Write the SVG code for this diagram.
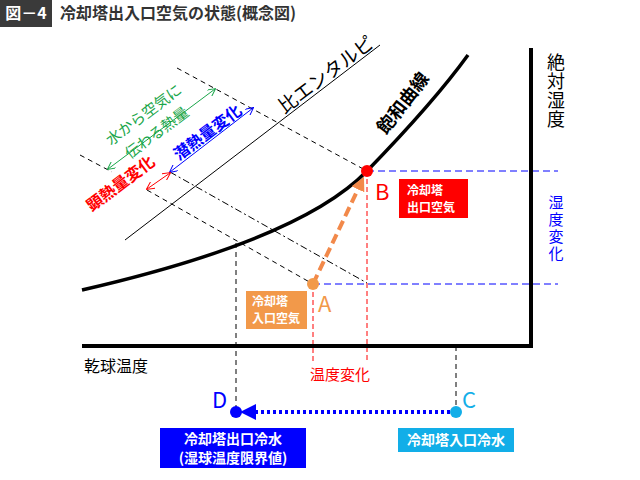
<svg xmlns="http://www.w3.org/2000/svg" width="640" height="480" viewBox="0 0 640 480">
<style>
text{font-family:"Noto Sans CJK JP","Noto Sans",sans-serif}
.thin{stroke:#000;stroke-width:1;fill:none}
.dsh{stroke:#000;stroke-width:1;fill:none;stroke-dasharray:5,4}
.dd{stroke:#000;stroke-width:1;fill:none;stroke-dasharray:7,3,2,3}
.wt{fill:#fff;font-size:12px;font-weight:bold}
</style>
<defs>
<marker id="og" viewBox="0 0 10 10" refX="9" refY="5" markerWidth="8" markerHeight="8" orient="auto-start-reverse"><path d="M0,0L10,5L0,10" fill="none" stroke="#1aa64a" stroke-width="1.2"/></marker>
<marker id="ob" viewBox="0 0 10 10" refX="9" refY="5" markerWidth="8" markerHeight="8" orient="auto-start-reverse"><path d="M0,0L10,5L0,10" fill="none" stroke="#00f" stroke-width="1.2"/></marker>
<marker id="or" viewBox="0 0 10 10" refX="9" refY="5" markerWidth="8" markerHeight="8" orient="auto-start-reverse"><path d="M0,0L10,5L0,10" fill="none" stroke="#f00" stroke-width="1.2"/></marker>
<marker id="oa" viewBox="0 0 10 10" refX="5" refY="5" markerWidth="3.5" markerHeight="3.5" orient="auto"><path d="M0,0L10,5L0,10z" fill="#f2894a"/></marker>
<marker id="bl" viewBox="0 0 10 10" refX="5" refY="5" markerWidth="4" markerHeight="4" orient="auto"><path d="M0,0L10,5L0,10z" fill="#00f"/></marker>
</defs>
<g id="title">
<rect x="0" y="0" width="52" height="27" fill="#3a3a3a"/>
<text x="26" y="19" fill="#fff" font-size="16" font-weight="bold" text-anchor="middle">図－4</text>
<text x="60" y="19" fill="#333" font-size="16" font-weight="bold">冷却塔出入口空気の状態(概念図)</text>
</g>
<g id="connectors">
<line class="thin" x1="125" y1="240" x2="380" y2="45"/>
<line class="dsh" x1="177" y1="68" x2="367" y2="171"/>
<line class="dsh" x1="80" y1="155" x2="112" y2="172"/>
<line class="dd" x1="170" y1="172" x2="367" y2="283"/>
<line class="dsh" x1="147" y1="190" x2="313" y2="284"/>
<line stroke="#1aa64a" x1="108" y1="169" x2="215" y2="89" marker-start="url(#og)" marker-end="url(#og)"/>
<line stroke="#00f" x1="170" y1="172" x2="253" y2="108" marker-start="url(#ob)" marker-end="url(#ob)"/>
<line stroke="#f00" x1="147" y1="189" x2="170" y2="173" marker-start="url(#or)" marker-end="url(#or)"/>
<path d="M82,290 Q300,240 367,171 T468,55" fill="none" stroke="#000" stroke-width="3.5"/>
<line x1="367" y1="171" x2="558" y2="171" stroke="#00f" stroke-dasharray="7,4"/>
<line x1="313" y1="284" x2="558" y2="284" stroke="#00f" stroke-dasharray="7,4"/>
<line x1="313" y1="284" x2="313" y2="362" stroke="#f00" stroke-dasharray="5,3"/>
<line x1="367" y1="171" x2="367" y2="362" stroke="#f00" stroke-dasharray="5,3"/>
<line class="dsh" x1="236" y1="243" x2="236" y2="410"/>
<line class="dsh" x1="456" y1="346" x2="456" y2="410"/>
<line x1="313" y1="284" x2="361" y2="183" stroke="#f2894a" stroke-width="4" stroke-dasharray="10,5" marker-end="url(#oa)"/>
<line x1="450" y1="412" x2="248" y2="412" stroke="#00f" stroke-width="4" stroke-dasharray="3,3" marker-end="url(#bl)"/>
<line x1="82" y1="346" x2="531" y2="346" stroke="#000" stroke-width="4"/>
<line x1="531" y1="48" x2="531" y2="348" stroke="#000" stroke-width="4"/>
</g>
<g id="labels">
<text transform="translate(330,80) rotate(-37)" font-size="19" text-anchor="middle">比エンタルピ</text>
<text transform="translate(408,107) rotate(-52)" font-size="18" font-weight="bold" text-anchor="middle">飽和曲線</text>
<text transform="translate(147,119) rotate(-37)" font-size="15" fill="#1aa64a" text-anchor="middle">水から空気に</text>
<text transform="translate(160,137) rotate(-37)" font-size="15" fill="#1aa64a" text-anchor="middle">伝わる熱量</text>
<text transform="translate(211,137) rotate(-37)" font-size="16" font-weight="bold" fill="#00f" text-anchor="middle">潜熱量変化</text>
<text transform="translate(124,188) rotate(-37)" font-size="16" font-weight="bold" fill="#f00" text-anchor="middle">顕熱量変化</text>
<text x="556" y="53" writing-mode="vertical-rl" font-size="18" letter-spacing="1">絶対湿度</text>
<text x="556" y="195" writing-mode="vertical-rl" font-size="15" fill="#00f" letter-spacing="2">湿度変化</text>
<text x="84" y="372" font-size="16">乾球温度</text>
<text x="340" y="380" font-size="15" fill="#f00" text-anchor="middle">温度変化</text>
</g>
<g id="A"><circle cx="313" cy="284" r="6" fill="#f2994a"/><text x="318" y="312" font-size="22" fill="#f2994a" font-family="Liberation Sans">A</text>
<rect x="246" y="291" width="61" height="38" fill="#f2994a"/><text class="wt" x="252" y="306">冷却塔</text><text class="wt" x="252" y="323">入口空気</text></g>
<g id="B"><circle cx="367" cy="171" r="6" fill="#f00"/><text x="375" y="200" font-size="22" fill="#f00" font-family="Liberation Sans">B</text>
<rect x="399" y="179" width="69" height="39" fill="#f00"/><text class="wt" x="407" y="195">冷却塔</text><text class="wt" x="407" y="212">出口空気</text></g>
<g id="D"><circle cx="236" cy="412" r="6" fill="#00f"/><text x="212" y="408" font-size="22" fill="#00f" font-family="Liberation Sans">D</text>
<rect x="160" y="428" width="146" height="40" fill="#00f"/><text class="wt" x="233" y="444" text-anchor="middle" style="font-size:14px">冷却塔出口冷水</text><text class="wt" x="233" y="463" text-anchor="middle" style="font-size:14px">(湿球温度限界値)</text></g>
<g id="C"><circle cx="456" cy="412" r="6" fill="#12aee8"/><text x="462" y="408" font-size="22" fill="#12aee8" font-family="Liberation Sans">C</text>
<rect x="398" y="428" width="116" height="24" fill="#12aee8"/><text class="wt" x="456" y="445" text-anchor="middle" style="font-size:14px">冷却塔入口冷水</text></g>
</svg>
